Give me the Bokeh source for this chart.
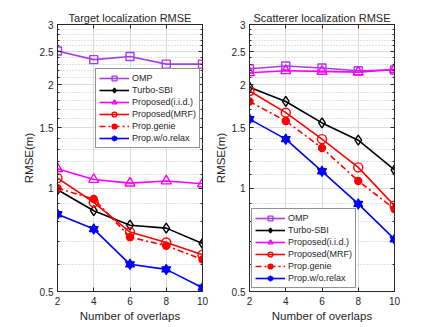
from bokeh.plotting import figure
from bokeh.layouts import row
from bokeh.models import (FixedTicker, Legend, LegendItem, LogAxis, LinearAxis,
                          Range1d, NumeralTickFormatter, CustomLabelingPolicy)
from bokeh.embed import file_html
from bokeh.resources import INLINE

overlaps = [2, 4, 6, 8, 10]

# Target localization RMSE (m)
omp_t = [2.51, 2.37, 2.42, 2.30, 2.30]
turbo_t = [0.99, 0.86, 0.78, 0.765, 0.69]
iid_t = [1.14, 1.06, 1.035, 1.05, 1.03]
mrf_t = [1.07, 0.91, 0.745, 0.695, 0.64]
genie_t = [1.00, 0.93, 0.72, 0.68, 0.62]
relax_t = [0.84, 0.76, 0.60, 0.58, 0.513]

# Scatterer localization RMSE (m)
omp_s = [2.23, 2.27, 2.24, 2.20, 2.21]
turbo_s = [1.97, 1.79, 1.55, 1.38, 1.13]
iid_s = [2.17, 2.20, 2.19, 2.18, 2.22]
mrf_s = [1.92, 1.66, 1.39, 1.15, 0.89]
genie_s = [1.79, 1.57, 1.31, 1.05, 0.87]
relax_s = [1.59, 1.39, 1.12, 0.90, 0.71]

labels = ["OMP", "Turbo-SBI", "Proposed(i.i.d.)", "Proposed(MRF)", "Prop.genie", "Prop.w/o.relax"]
y_ticks = [0.5, 1, 1.5, 2, 2.5, 3]
x_ticks = [2, 4, 6, 8, 10]

FONT = "Liberation Sans"
TXT = "#262626"
FW, FH = 145, 267

styles = [
    dict(color="#A43FE6", marker="square", dash="solid", fill=False, size=8),
    dict(color="#000000", marker="diamond", dash="solid", fill=False, size=10),
    dict(color="#FF00FF", marker="triangle", dash="solid", fill=False, size=10),
    dict(color="#FF0000", marker="circle", dash="solid", fill=False, size=9),
    dict(color="#FF0000", marker="circle", dash="6 3 2 3", fill=True, size=7),
    dict(color="#0000FF", marker="hexagram", dash="solid", fill=True, size=9),
]


def make(title, series, legend_loc, bl, br):
    minor = [round(0.5 + 0.1 * i, 1) for i in range(26)]
    p = figure(frame_width=FW, frame_height=FH, y_axis_type="log",
               x_range=Range1d(2, 10), y_range=Range1d(0.5, 3),
               output_backend="svg", toolbar_location=None,
               min_border_left=bl, min_border_right=br,
               min_border_top=24, min_border_bottom=4)
    p.title.text = title
    p.title.text_font = FONT
    p.title.text_font_size = "11px"
    p.title.text_font_style = "normal"
    p.title.text_color = TXT
    p.title.align = "center"
    p.title.standoff = 2

    yt = FixedTicker(ticks=y_ticks, minor_ticks=minor)
    xt = FixedTicker(ticks=x_ticks, minor_ticks=[])
    p.yaxis.ticker = yt
    p.xaxis.ticker = xt
    p.yaxis.formatter = NumeralTickFormatter(format="0.[0]")
    for ax in (p.xaxis[0], p.yaxis[0]):
        ax.major_tick_in = 4
        ax.major_tick_out = 0
        ax.minor_tick_in = 2
        ax.minor_tick_out = 0
        ax.major_label_text_font = FONT
        ax.major_label_text_font_size = "10px"
        ax.major_label_text_color = TXT
        ax.axis_label_text_font = FONT
        ax.axis_label_text_font_size = "11.5px"
        ax.axis_label_text_font_style = "normal"
        ax.axis_label_text_color = TXT
        ax.axis_line_color = TXT
        ax.major_tick_line_color = TXT
        ax.minor_tick_line_color = TXT
    p.xaxis.axis_label = "Number of overlaps"
    p.yaxis.axis_label = "RMSE(m)"
    p.xaxis.major_label_standoff = 5
    p.xaxis.axis_label_standoff = 2
    p.yaxis.major_label_standoff = 4
    p.yaxis.axis_label_standoff = 2

    no_labels = CustomLabelingPolicy(code="")
    ra = LogAxis(ticker=yt, major_label_policy=no_labels, major_tick_in=4,
                 major_tick_out=0, minor_tick_in=2, minor_tick_out=0,
                 major_label_text_font_size="0px",
                 major_label_standoff=0, axis_line_color=TXT,
                 major_tick_line_color=TXT, minor_tick_line_color=TXT)
    p.add_layout(ra, "right")
    ta = LinearAxis(ticker=xt, major_label_policy=no_labels, major_tick_in=4,
                    major_tick_out=0, minor_tick_out=0, minor_tick_in=0,
                    major_label_text_font_size="0px",
                    major_label_standoff=0, axis_line_color=TXT,
                    major_tick_line_color=TXT)
    p.add_layout(ta, "above")

    p.xgrid.grid_line_color = "#DCDCDC"
    p.ygrid.grid_line_color = "#DCDCDC"
    p.ygrid.minor_grid_line_color = "#C4C4C4"
    p.ygrid.minor_grid_line_dash = "1 2"
    p.outline_line_color = TXT

    items = []
    for lab, ys, st in zip(labels, series, styles):
        rs = []
        rs.append(p.line(overlaps, ys, line_color=st["color"], line_width=1.6,
                         line_dash=st["dash"]))
        fill = st["color"] if st["fill"] else None
        if st["marker"] == "hexagram":
            for m in ("triangle", "inverted_triangle"):
                rs.append(p.scatter(overlaps, ys, marker=m, size=st["size"],
                                    line_color=st["color"], fill_color=fill,
                                    line_width=1.2))
        else:
            rs.append(p.scatter(overlaps, ys, marker=st["marker"], size=st["size"],
                                line_color=st["color"], fill_color=fill,
                                line_width=1.4))
        items.append(LegendItem(label=lab, renderers=rs))

    leg = Legend(items=items, location=legend_loc, glyph_width=30, glyph_height=12,
                 label_height=12, spacing=0, padding=3, margin=0, label_standoff=3,
                 label_text_font=FONT, label_text_font_size="9px",
                 label_text_color=TXT, border_line_color=TXT, border_line_width=1,
                 background_fill_alpha=1)
    p.add_layout(leg, "center")
    return p


p1 = make("Target localization RMSE",
          [omp_t, turbo_t, iid_t, mrf_t, genie_t, relax_t], (38, 143), 57, 9)
p2 = make("Scatterer localization RMSE",
          [omp_s, turbo_s, iid_s, mrf_s, genie_s, relax_s], (2, 3), 34, 20)

layout = row(p1, p2)
open("out.html", "w").write(file_html(layout, INLINE))
